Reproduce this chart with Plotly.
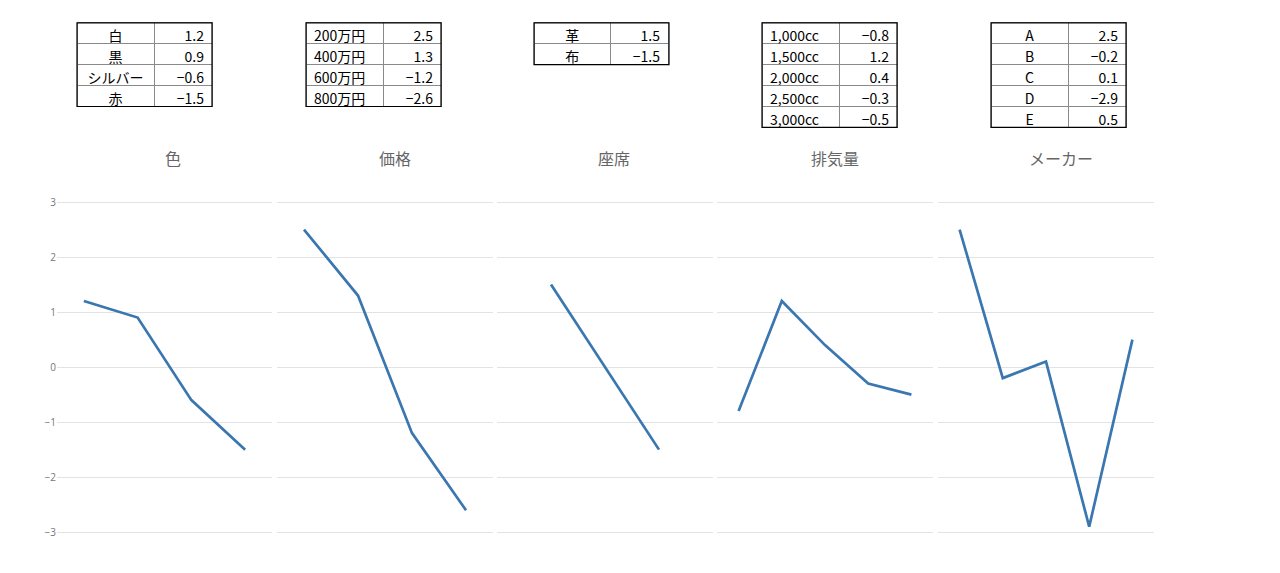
import plotly.graph_objects as go

# page body has an 8px margin, so the figure is drawn 8px in from the window edge
OFF = 8
W, H = 1280 - OFF, 573 - OFF

# ---- data ----
titles = ["色", "価格", "座席", "排気量", "メーカー"]
color_labels = ["白", "黒", "シルバー", "赤"]
color_values = [1.2, 0.9, -0.6, -1.5]
price_labels = ["200万円", "400万円", "600万円", "800万円"]
price_values = [2.5, 1.3, -1.2, -2.6]
seat_labels = ["革", "布"]
seat_values = [1.5, -1.5]
engine_labels = ["1,000cc", "1,500cc", "2,000cc", "2,500cc", "3,000cc"]
engine_values = [-0.8, 1.2, 0.4, -0.3, -0.5]
maker_labels = ["A", "B", "C", "D", "E"]
maker_values = [2.5, -0.2, 0.1, -2.9, 0.5]
y_ticks = [3, 2, 1, 0, -1, -2, -3]

groups = [
    (color_labels, color_values),
    (price_labels, price_values),
    (seat_labels, seat_values),
    (engine_labels, engine_values),
    (maker_labels, maker_values),
]
label_align = ["center", "left", "center", "left", "center"]

# ---- layout geometry (window pixels) ----
panel_px = [(57, 272), (277, 493), (497, 713), (717, 933), (938, 1154)]
plot_top, plot_bot = 195.5, 538.5
title_px = [173, 395, 614, 835, 1061]
table_left = [77, 306, 534, 762, 991]
table_w = 135
table_top = 21
row_h = 21

LINE = "#3a76af"
GRID = "#e3e3e3"
FONT_T = "Noto Sans CJK JP"

fig = go.Figure()

def fx(px):
    return (px - OFF) / W

def fy(py):
    return (H - (py - OFF)) / H

for i, (labels, values) in enumerate(groups):
    n = i + 1
    xa = "x" if n == 1 else f"x{n}"
    ya = "y" if n == 1 else f"y{n}"
    fig.add_trace(go.Scatter(
        x=list(range(len(labels))), y=values, mode="lines",
        line=dict(color=LINE, width=2.7),
        xaxis=xa, yaxis=ya, showlegend=False,
        hovertext=labels,
    ))
    x0, x1 = panel_px[i]
    fig.layout[f"xaxis{'' if n == 1 else n}"] = dict(
        domain=[fx(x0), fx(x1)], range=[-0.5, len(labels) - 0.5],
        showgrid=False, zeroline=False, showticklabels=False, showline=False,
        anchor=ya, fixedrange=True,
    )
    fig.layout[f"yaxis{'' if n == 1 else n}"] = dict(
        domain=[fy(plot_bot), fy(plot_top)], range=[-3.1, 3.1],
        tickvals=y_ticks, showgrid=True, gridcolor=GRID, gridwidth=1,
        zeroline=False, showline=False, showticklabels=(n == 1),
        tickfont=dict(family="Open Sans", size=10, color="#777"),
        anchor=xa, ticks="", fixedrange=True,
    )
    # title
    fig.add_annotation(
        x=fx(title_px[i]), y=fy(157), xref="paper", yref="paper",
        text=titles[i], showarrow=False,
        font=dict(family=FONT_T, size=16, color="#666"),
        xanchor="center", yanchor="middle",
    )
    # table
    lab = list(labels)
    val = [f"{v:.1f}".replace("-", "\u2212") for v in values]
    nrows = len(labels)
    tl = table_left[i]
    fig.add_trace(go.Table(
        domain=dict(x=[fx(tl), fx(tl + table_w)],
                    y=[fy(table_top + row_h * nrows + 20), fy(table_top)]),
        columnwidth=[77, 58],
        header=dict(values=[lab[0], val[0]], height=row_h,
                    align=[label_align[i], "right"],
                    line=dict(color="#8a8a8a", width=1),
                    fill=dict(color="white"),
                    font=dict(family=FONT_T, size=14, color="black")),
        cells=dict(values=[lab[1:], val[1:]], height=row_h,
                   align=[label_align[i], "right"],
                   line=dict(color="#8a8a8a", width=1),
                   fill=dict(color="white"),
                   font=dict(family=FONT_T, size=14, color="black")),
    ))
    # solid outer border of the table
    fig.add_shape(
        type="rect", xref="paper", yref="paper",
        x0=fx(tl), x1=fx(tl + table_w),
        y0=fy(table_top + row_h * nrows), y1=fy(table_top),
        line=dict(color="black", width=1.2), fillcolor="rgba(0,0,0,0)",
        layer="above",
    )

fig.update_layout(
    width=W, height=H,
    margin=dict(l=0, r=0, t=0, b=0),
    paper_bgcolor="white", plot_bgcolor="white",
    showlegend=False,
)

fig.write_html("out.html")
